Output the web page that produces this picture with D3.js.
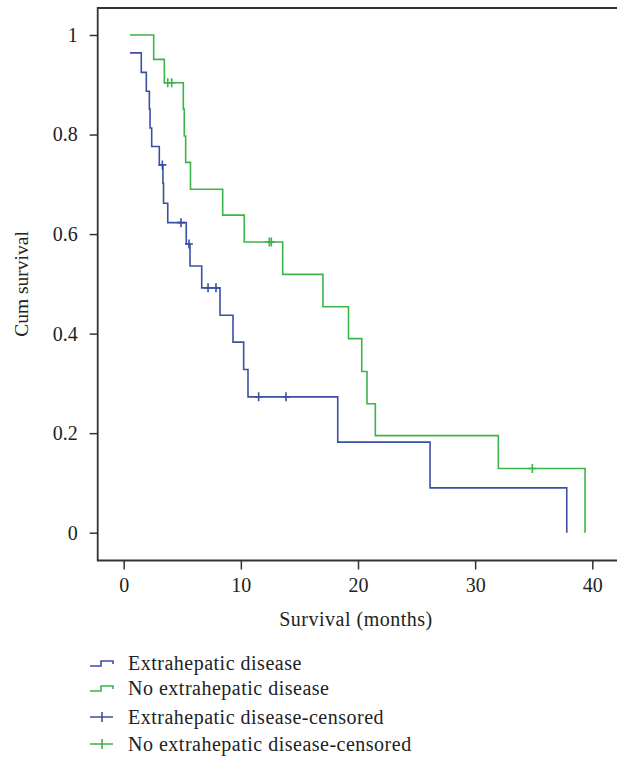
<!DOCTYPE html>
<html>
<head>
<meta charset="utf-8">
<script src="https://cdn.jsdelivr.net/npm/d3@7"></script>
<style>
  body { margin: 0; background: #fff; }
  svg text { font-family: "Liberation Serif", "DejaVu Serif", serif; fill: #222; }
  .axis text { font-size: 20px; }
  .axis line { stroke: #333; stroke-width: 1.5; }
  .axis path { display: none; }
</style>
</head>
<body>
<script>
// Kaplan-Meier estimates (time in months, cum survival)
var extraTimes  = [0.54, 1.50, 1.93, 2.19, 2.25, 2.39, 3.04, 3.35, 3.40, 3.76, 5.34, 5.66, 6.66, 8.22, 9.33, 10.24, 10.61, 18.27, 26.15, 37.82];
var extraSurv   = [0.964, 0.925, 0.887, 0.851, 0.813, 0.776, 0.739, 0.702, 0.662, 0.623, 0.580, 0.536, 0.492, 0.437, 0.383, 0.328, 0.273, 0.182, 0.090, 0];
var noExtraTimes = [0.54, 2.56, 3.47, 5.09, 5.17, 5.29, 5.70, 8.45, 10.29, 13.57, 17.01, 19.19, 20.32, 20.77, 21.48, 31.98, 39.38];
var noExtraSurv  = [1, 0.951, 0.904, 0.851, 0.797, 0.744, 0.690, 0.638, 0.584, 0.519, 0.454, 0.390, 0.324, 0.259, 0.195, 0.129, 0];

// censored observations
var extraCensTimes = [3.30, 4.89, 5.57, 7.20, 7.88, 11.52, 13.85];
var extraCensSurv  = [0.739, 0.623, 0.580, 0.492, 0.492, 0.273, 0.273];
var noExtraCensTimes = [3.76, 4.10, 12.43, 12.60, 34.88];
var noExtraCensSurv  = [0.904, 0.904, 0.584, 0.584, 0.129];

var xTicks = [0, 10, 20, 30, 40];
var yTicks = [0, 0.2, 0.4, 0.6, 0.8, 1];
var legendLabels = ["Extrahepatic disease", "No extrahepatic disease",
                    "Extrahepatic disease-censored", "No extrahepatic disease-censored"];

var blue = "#3a51a3", green = "#3bb54a";

var width = 617, height = 757;
var box = {left: 97.7, top: 8, right: 640, bottom: 560.5};

var x = d3.scaleLinear().domain([0, 40]).range([123.7, 592.3]);
var y = d3.scaleLinear().domain([0, 1]).range([532.7, 35]);

var svg = d3.select("body").append("svg")
    .attr("width", width)
    .attr("height", height);

// frame (left, top, bottom)
svg.append("path")
    .attr("d", "M" + box.right + "," + box.top + "H" + box.left + "V" + box.bottom + "H" + box.right)
    .attr("fill", "none")
    .attr("stroke", "#333")
    .attr("stroke-width", 1.8);

// axes
var xAxis = d3.axisBottom(x).tickValues(xTicks).tickSize(9).tickSizeOuter(0).tickPadding(8);
var yAxis = d3.axisLeft(y).tickValues(yTicks).tickSize(8).tickSizeOuter(0).tickPadding(12)
    .tickFormat(function(d) { return d === 0 || d === 1 ? d : d3.format(".1f")(d); });

svg.append("g")
    .attr("class", "x axis")
    .attr("transform", "translate(0," + box.bottom + ")")
    .call(xAxis);

svg.append("g")
    .attr("class", "y axis")
    .attr("transform", "translate(" + box.left + ",0)")
    .call(yAxis);

// axis titles
svg.append("text")
    .attr("x", 356)
    .attr("y", 626)
    .attr("text-anchor", "middle")
    .style("font-size", "20px")
    .style("letter-spacing", "0.5px")
    .text("Survival (months)");

svg.append("text")
    .attr("transform", "translate(28,284) rotate(-90)")
    .attr("text-anchor", "middle")
    .style("font-size", "19.5px")
    .text("Cum survival");

// survival curves
var step = d3.line()
    .x(function(d) { return x(d[0]); })
    .y(function(d) { return y(d[1]); })
    .curve(d3.curveStepAfter);

var series = [
  {times: extraTimes, surv: extraSurv, cT: extraCensTimes, cS: extraCensSurv, color: blue},
  {times: noExtraTimes, surv: noExtraSurv, cT: noExtraCensTimes, cS: noExtraCensSurv, color: green}
];

series.forEach(function(s) {
    var pts = d3.zip(s.times, s.surv);
    svg.append("path")
        .attr("d", step(pts))
        .attr("fill", "none")
        .attr("stroke", s.color)
        .attr("stroke-width", 1.6);

    svg.selectAll(null)
        .data(d3.zip(s.cT, s.cS))
        .enter().append("path")
        .attr("d", function(d) {
            var cx = x(d[0]), cy = y(d[1]);
            return "M" + (cx - 4) + "," + cy + "H" + (cx + 4) + "M" + cx + "," + (cy - 4.5) + "V" + (cy + 4.5);
        })
        .attr("stroke", s.color)
        .attr("stroke-width", 1.6);
});

// legend
var legendY = [663, 688, 717, 744];
var legend = svg.append("g");

legendLabels.forEach(function(label, i) {
    var col = i % 2 === 0 ? blue : green;
    var ly = legendY[i];
    if (i < 2) {
        legend.append("path")
            .attr("d", "M90," + (ly + 3) + "H101V" + (ly - 2) + "H113V" + (ly + 1))
            .attr("fill", "none")
            .attr("stroke", col)
            .attr("stroke-width", 1.6);
    } else {
        legend.append("path")
            .attr("d", "M90," + ly + "H113M102," + (ly - 5) + "V" + (ly + 5))
            .attr("stroke", col)
            .attr("stroke-width", 1.6);
    }
    legend.append("text")
        .attr("x", 128)
        .attr("y", ly)
        .attr("dy", "0.35em")
        .style("font-size", "20px")
        .style("letter-spacing", "0.5px")
        .text(label);
});
</script>
</body>
</html>
